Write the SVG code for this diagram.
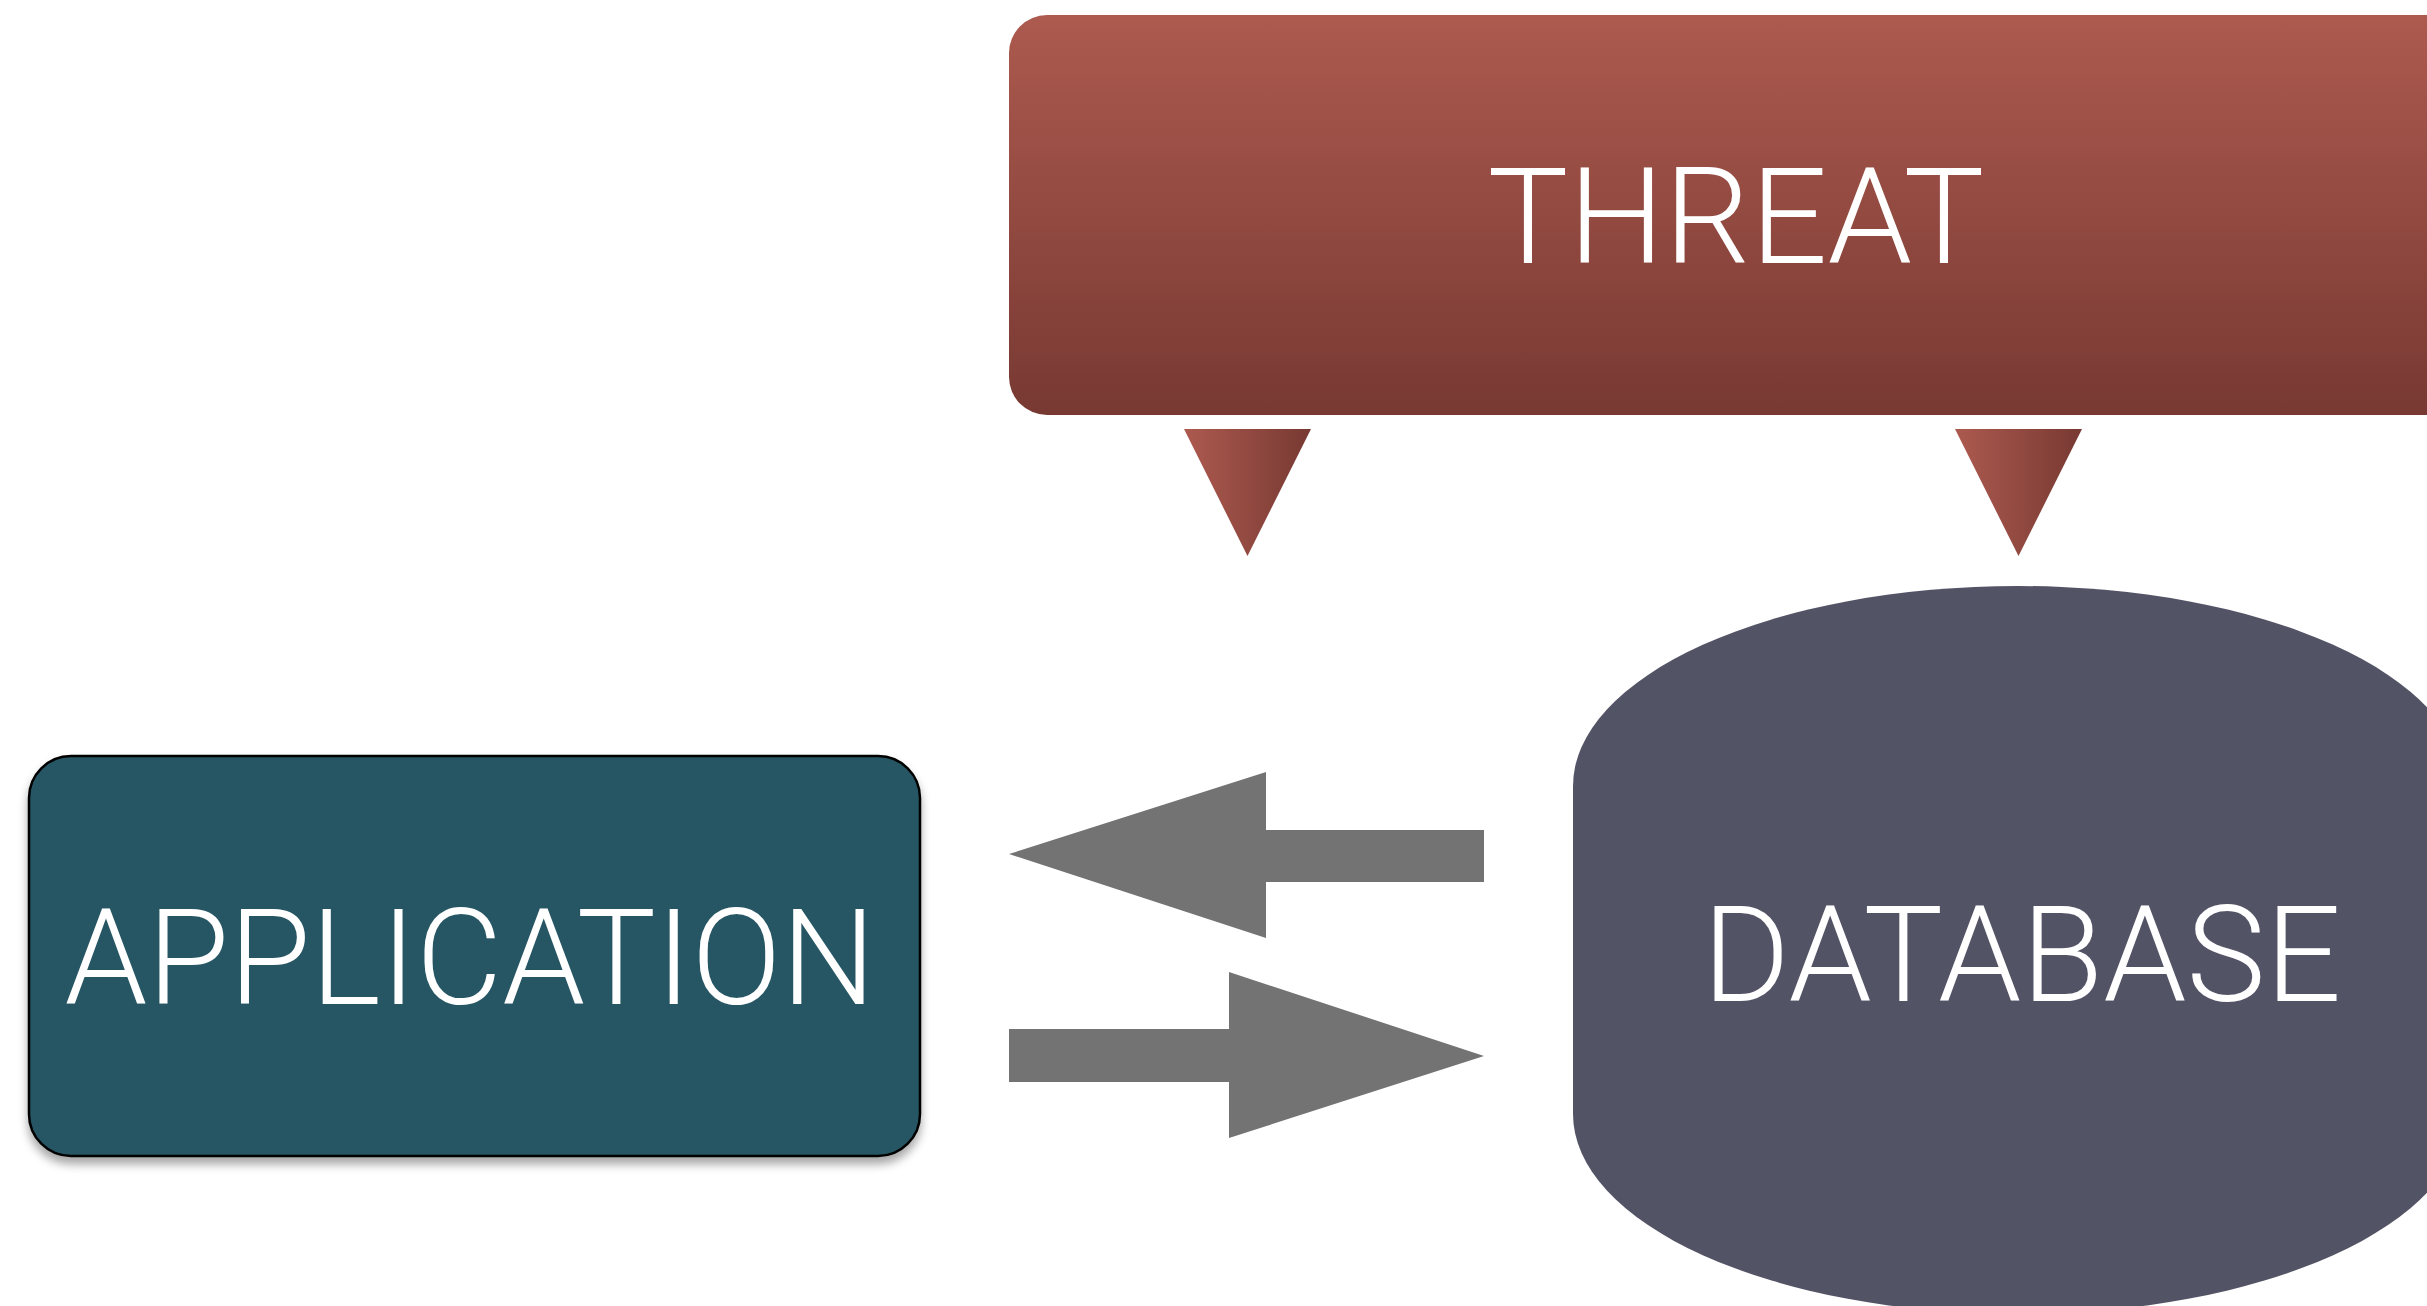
<svg xmlns="http://www.w3.org/2000/svg" width="2427" height="1306" viewBox="0 0 2427 1306">
<style>
.lbl{font-family:Roboto,"Liberation Sans",sans-serif;font-weight:300;font-size:134px;fill:#ffffff;text-anchor:middle}
.arrow{fill:#737373}
</style>
<defs>
<linearGradient id="threatV" x1="0" y1="0" x2="0" y2="1">
<stop offset="0" stop-color="#AD5A4F"/>
<stop offset="1" stop-color="#773932"/>
</linearGradient>
<linearGradient id="threatH" x1="0" y1="0" x2="1" y2="0">
<stop offset="0" stop-color="#AD5A4F"/>
<stop offset="1" stop-color="#773932"/>
</linearGradient>
<filter id="shadow" x="-10%" y="-10%" width="120%" height="130%">
<feDropShadow dx="0" dy="7" stdDeviation="5" flood-color="#000" flood-opacity="0.35"/>
</filter>
</defs>
<rect width="2427" height="1306" fill="#ffffff"/>
<g id="threat">
<rect x="1009" y="15" width="1500" height="400" rx="38" ry="38" fill="url(#threatV)"/>
<text class="lbl" x="1736" y="263" textLength="497" lengthAdjust="spacingAndGlyphs">THREAT</text>
</g>
<g id="threat-pointer-left">
<polygon points="1184,429 1311,429 1247.5,556" fill="url(#threatH)"/>
</g>
<g id="threat-pointer-right">
<polygon points="1955,429 2082,429 2018.5,556" fill="url(#threatH)"/>
</g>
<g id="application">
<rect x="29" y="756" width="891" height="400" rx="42" ry="42" fill="#285763" stroke="#000" stroke-width="2.5" filter="url(#shadow)"/>
<text class="lbl" x="470" y="1004" textLength="811" lengthAdjust="spacingAndGlyphs">APPLICATION</text>
</g>
<g id="database">
<path d="M1573,786 A445,200 0 0 1 2463,786 L2463,1114 A445,200 0 0 1 1573,1114 Z" fill="#535366"/>
<text class="lbl" x="2022" y="1001" textLength="639" lengthAdjust="spacingAndGlyphs">DATABASE</text>
</g>
<g id="connectors">
<polygon class="arrow" points="1009,854 1266,772 1266,830 1484,830 1484,882 1266,882 1266,938"/>
<polygon class="arrow" points="1484,1056 1229,972 1229,1029 1009,1029 1009,1082 1229,1082 1229,1138"/>
</g>
</svg>
